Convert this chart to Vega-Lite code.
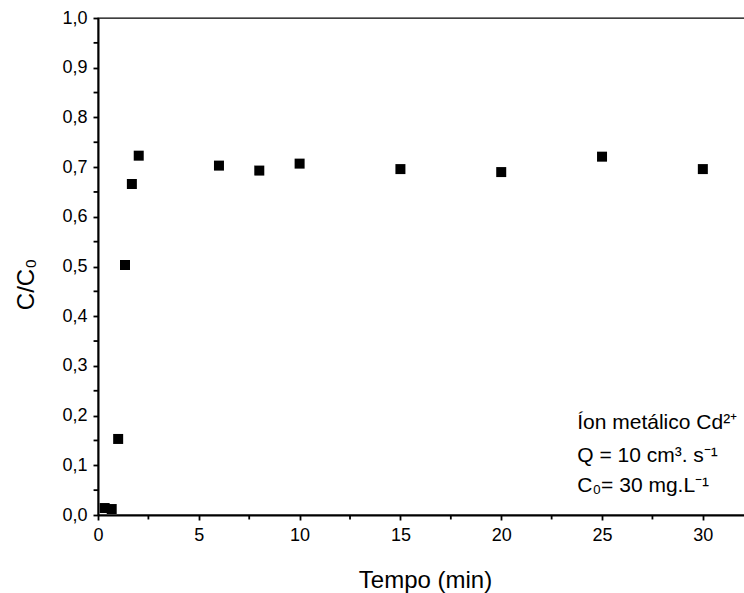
{
  "$schema": "https://vega.github.io/schema/vega-lite/v6.json",
  "width": 650,
  "height": 497,
  "autosize": {"type": "none"},
  "padding": {"left": 98, "top": 18, "right": 0, "bottom": 78},
  "background": "white",
  "config": {
    "view": {"stroke": "black", "strokeWidth": 1.3},
    "font": "Liberation Sans",
    "axis": {
      "domainColor": "black", "domainWidth": 2, "tickColor": "black", "tickWidth": 1.8,
      "labelColor": "black", "titleColor": "black", "labelFont": "Liberation Sans", "titleFont": "Liberation Sans",
      "labelFontSize": 18, "titleFontSize": 24, "titleFontWeight": "normal", "grid": false
    }
  },
  "layer": [
    {
      "data": {"values": [
        {"t": 0.33, "c": 0.014}, {"t": 0.68, "c": 0.012}, {"t": 1.0, "c": 0.153},
        {"t": 1.34, "c": 0.503}, {"t": 1.68, "c": 0.666}, {"t": 2.02, "c": 0.723},
        {"t": 6.0, "c": 0.703}, {"t": 8.0, "c": 0.693}, {"t": 10.0, "c": 0.707},
        {"t": 15.0, "c": 0.696}, {"t": 20.0, "c": 0.690}, {"t": 25.0, "c": 0.721},
        {"t": 30.0, "c": 0.696}
      ]},
      "mark": {"type": "point", "shape": "square", "filled": true, "color": "black", "opacity": 1, "size": 100},
      "encoding": {
        "x": {"field": "t", "type": "quantitative", "scale": {"domain": [0, 32.24], "nice": false, "zero": false},
          "axis": {"title": "Tempo (min)", "values": [0, 5, 10, 15, 20, 25, 30], "tickLength": 10, "labelPadding": 6, "labelFlush": false, "labelOverlap": false, "format": "d",
            "titleX": 327, "titleY": 72, "titleBaseline": "alphabetic", "titleAnchor": "middle", "titleAlign": "center"}},
        "y": {"field": "c", "type": "quantitative", "scale": {"domain": [0, 1.0], "nice": false},
          "axis": {"title": "C/C₀", "values": [0, 0.1, 0.2, 0.3, 0.4, 0.5, 0.6, 0.7, 0.8, 0.9, 1.0], "tickLength": 9, "labelPadding": 6, "labelFlush": false, "labelOverlap": false,
            "titleX": -65, "titleY": 266, "titleBaseline": "alphabetic", "titleAngle": -90, "titleAlign": "center",
            "labelExpr": "replace(format(datum.value, '.1f'), '.', ',')"}}
      }
    },
    {
      "data": {"values": [{"t": 2.5}, {"t": 7.5}, {"t": 12.5}, {"t": 17.5}, {"t": 22.5}, {"t": 27.5}]},
      "mark": {"type": "rule", "color": "black", "strokeWidth": 1.8},
      "encoding": {
        "x": {"field": "t", "type": "quantitative"},
        "y": {"datum": 0},
        "y2": {"datum": -0.009}
      }
    },
    {
      "data": {"values": [{"c": 0.05}, {"c": 0.15}, {"c": 0.25}, {"c": 0.35}, {"c": 0.45}, {"c": 0.55}, {"c": 0.65}, {"c": 0.75}, {"c": 0.85}, {"c": 0.95}]},
      "mark": {"type": "rule", "color": "black", "strokeWidth": 1.8},
      "encoding": {
        "y": {"field": "c", "type": "quantitative"},
        "x": {"datum": 0},
        "x2": {"datum": -0.22}
      }
    },
    {
      "data": {"values": [
        {"t": 23.77, "c": 0.173, "label": "Íon metálico Cd²⁺"},
        {"t": 23.77, "c": 0.107, "label": "Q = 10 cm³. s⁻¹"},
        {"t": 23.77, "c": 0.046, "label": "C₀= 30 mg.L⁻¹"}
      ]},
      "mark": {"type": "text", "align": "left", "baseline": "alphabetic", "fontSize": 21, "font": "Liberation Sans", "color": "black"},
      "encoding": {
        "x": {"field": "t", "type": "quantitative"},
        "y": {"field": "c", "type": "quantitative"},
        "text": {"field": "label"}
      }
    }
  ]
}
